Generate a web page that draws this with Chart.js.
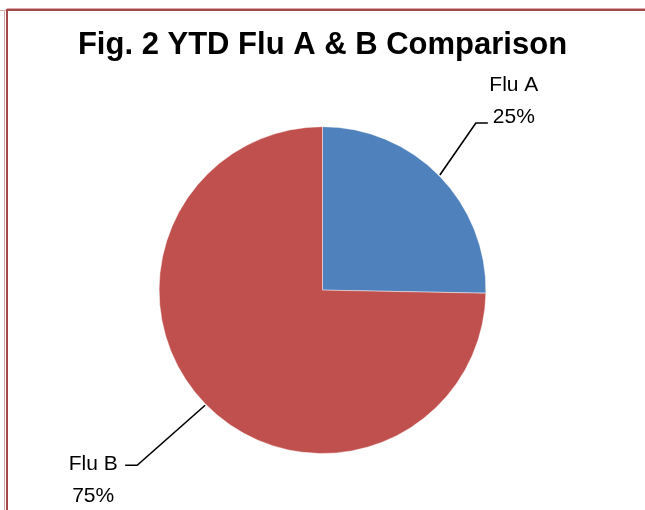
<!DOCTYPE html>
<html>
<head>
<meta charset="utf-8">
<script src="https://cdn.jsdelivr.net/npm/chart.js@4/dist/chart.umd.min.js"></script>
<style>
  html, body { margin: 0; padding: 0; background: #fff; }
  canvas { display: block; }
</style>
</head>
<body>
<canvas id="fluPie" width="645" height="510"></canvas>
<script>
// data
const categories = ['Flu A', 'Flu B'];
const shares = [25.3, 74.7];
const sliceColors = ['#4f81bd', '#c0504d'];

// leader line + label placement for each slice (elbow offset from slice edge, hook, text offset)
const labelLayout = [
    { elbow: [36, -52], hook: 12, text: [26, -32] },
    { elbow: [-68, 60], hook: -12, text: [-32, 5] }
];

// frame lines around the figure (like the page border in the original document)
const framePlugin = {
    id: 'frame',
    beforeDraw(chart) {
        const ctx = chart.ctx;
        ctx.save();
        ctx.strokeStyle = '#d8a9a9';
        ctx.lineWidth = 1;
        ctx.beginPath();
        ctx.moveTo(0, 10.5); ctx.lineTo(7, 10.5);
        ctx.moveTo(7, 8.5); ctx.lineTo(645, 8.5);
        ctx.moveTo(4.5, 10); ctx.lineTo(4.5, 510);
        ctx.stroke();
        ctx.strokeStyle = '#a24a4a';
        ctx.lineWidth = 2;
        ctx.beginPath();
        ctx.moveTo(6, 10); ctx.lineTo(645, 10);
        ctx.moveTo(7, 9); ctx.lineTo(7, 510);
        ctx.stroke();
        ctx.restore();
    }
};

const leaderLabels = {
    id: 'leaderLabels',
    afterDatasetsDraw(chart) {
        const ctx = chart.ctx;
        const ds = chart.data.datasets[0];
        const total = ds.data.reduce((a, b) => a + b, 0);
        chart.getDatasetMeta(0).data.forEach((arc, i) => {
            const p = arc.getProps(['x', 'y', 'startAngle', 'endAngle', 'outerRadius'], true);
            const mid = (p.startAngle + p.endAngle) / 2;
            const ex = p.x + Math.cos(mid) * (p.outerRadius + 1);
            const ey = p.y + Math.sin(mid) * (p.outerRadius + 1);
            const lay = labelLayout[i];
            const bx = ex + lay.elbow[0], by = ey + lay.elbow[1];
            const hx = bx + lay.hook;
            ctx.save();
            ctx.strokeStyle = '#000';
            ctx.lineWidth = 1.6;
            ctx.beginPath();
            ctx.moveTo(ex, ey);
            ctx.lineTo(bx, by);
            ctx.lineTo(hx, by);
            ctx.stroke();
            ctx.fillStyle = '#000';
            ctx.font = '21px "Liberation Sans", Arial, sans-serif';
            ctx.textAlign = 'center';
            ctx.textBaseline = 'alphabetic';
            const tx = hx + lay.text[0], ty = by + lay.text[1];
            ctx.fillText(chart.data.labels[i], tx, ty);
            ctx.fillText(Math.round(ds.data[i] / total * 100) + '%', tx, ty + 32);
            ctx.restore();
        });
    }
};

new Chart(document.getElementById('fluPie'), {
    type: 'pie',
    data: {
        labels: categories,
        datasets: [{
            data: shares,
            backgroundColor: sliceColors,
            borderColor: 'rgba(255,255,255,0.45)',
            borderWidth: 1
        }]
    },
    options: {
        responsive: false,
        devicePixelRatio: 1,
        animation: false,
        layout: { padding: { top: 0, bottom: 56, left: 0, right: 0 } },
        plugins: {
            legend: { display: false },
            tooltip: { enabled: false },
            title: {
                display: true,
                text: 'Fig. 2 YTD Flu A & B Comparison',
                color: '#000',
                font: { family: '"Liberation Sans", Arial, sans-serif', size: 31, weight: 'bold', lineHeight: 1.2 },
                padding: { top: 27, bottom: 62 }
            }
        }
    },
    plugins: [framePlugin, leaderLabels]
});
</script>
</body>
</html>
